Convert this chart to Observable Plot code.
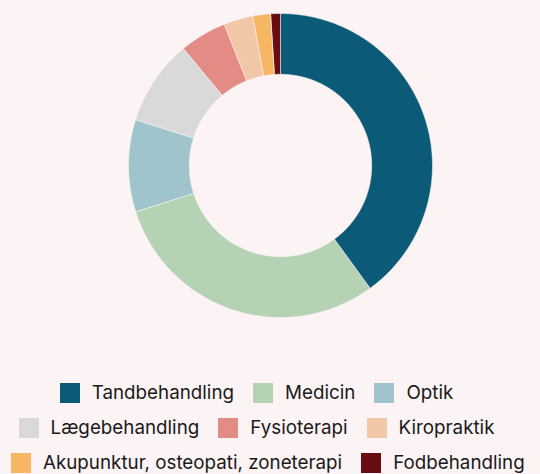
<!DOCTYPE html>
<html><head><meta charset="utf-8">
<script src="https://cdn.jsdelivr.net/npm/d3@7"></script>
<script src="https://cdn.jsdelivr.net/npm/@observablehq/plot@0.6"></script>
<style>
html,body{margin:0;padding:0;background:#fbf3f4;}
body{width:540px;height:474px;overflow:hidden;font-family:Inter,sans-serif;}
#legend{margin-top:45px;}
.row{display:flex;justify-content:center;height:35px;padding-right:27px;white-space:nowrap;}
.row.left{justify-content:flex-start;padding-right:0;padding-left:11px;}
.lg-swatches{font-family:Inter,sans-serif !important;font-size:18.8px !important;color:#1a1a1a !important;margin:0 !important;}
.lg-swatches-wrap{display:flex !important;flex-wrap:nowrap !important;align-items:center !important;min-height:35px !important;height:35px;gap:19px;}
.lg-swatch{display:inline-flex !important;align-items:center !important;margin-right:0 !important;white-space:nowrap;}
.lg-swatch > svg{margin-right:12px !important;}
</style></head><body>
<div id="chart"></div>
<div id="legend"></div>
<script>
const categories = ["Tandbehandling","Medicin","Optik","Lægebehandling","Fysioterapi","Kiropraktik","Akupunktur, osteopati, zoneterapi","Fodbehandling"];
const values = [40.0, 30.1, 9.8, 9.1, 5.0, 3.1, 1.9, 1.0];
const colors = ["#0a5a78","#b5d2b5","#9fc4cb","#d9d9d9","#e38c85","#f1c7a5","#f7b664","#6a0d13"];
const legendRows = [[0,1,2],[3,4,5],[6,7]];

const total = d3.sum(values);
const R = 1, r = 0.6;
let acc = 0;
function ringPts(a0, a1){
  const n = Math.max(2, Math.ceil((a1 - a0) / (Math.PI / 360)));
  const pts = [];
  for (let k = 0; k <= n; k++) { const a = a0 + (a1 - a0) * k / n; pts.push([R * Math.sin(a), -R * Math.cos(a)]); }
  for (let k = n; k >= 0; k--) { const a = a0 + (a1 - a0) * k / n; pts.push([r * Math.sin(a), -r * Math.cos(a)]); }
  pts.push(pts[0]);
  return pts;
}
const features = categories.map((c, i) => {
  const a0 = acc / total * 2 * Math.PI; acc += values[i];
  const a1 = acc / total * 2 * Math.PI;
  return {type: "Feature", properties: {category: c, value: values[i]}, geometry: {type: "Polygon", coordinates: [ringPts(a0, a1)]}};
});
const outline = {type: "Polygon", coordinates: [d3.range(0, 361, 2).map(d => [R * Math.sin(d * Math.PI / 180), -R * Math.cos(d * Math.PI / 180)])]};

const chart = Plot.plot({
  width: 540,
  height: 330,
  marginTop: 13, marginBottom: 13, marginLeft: 20, marginRight: 0,
  style: {background: "transparent"},
  projection: {type: "identity", domain: outline},
  color: {domain: categories, range: colors},
  marks: [
    Plot.geo(features, {fill: d => d.properties.category, stroke: "#fbf3f4", strokeWidth: 0.6})
  ]
});
document.getElementById("chart").appendChild(chart);

const legend = document.getElementById("legend");
legendRows.forEach((idx, k) => {
  const row = document.createElement("div");
  row.className = k === 2 ? "row left" : "row";
  row.appendChild(Plot.legend({
    color: {domain: idx.map(i => categories[i]), range: idx.map(i => colors[i])},
    legend: "swatches", swatchSize: 20, className: "lg"
  }));
  legend.appendChild(row);
});
</script>
</body></html>
